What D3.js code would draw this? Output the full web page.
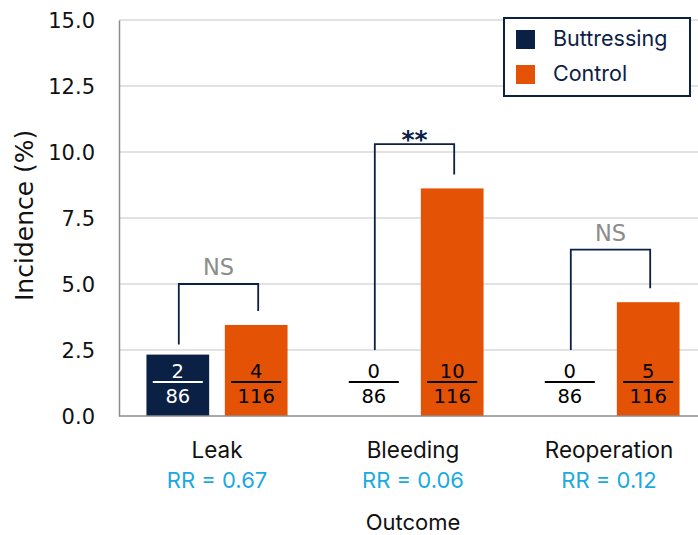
<!DOCTYPE html>
<html>
<head>
<meta charset="utf-8">
<script src="https://cdn.jsdelivr.net/npm/d3@7"></script>
<style>
  body { margin: 0; background: #fff; }
  svg { display: block; }
</style>
</head>
<body>
<div id="chart"></div>
<script>
// data
var categories = ["Leak", "Bleeding", "Reoperation"];
var series = ["Buttressing", "Control"];
var buttEvents = [2, 0, 0];
var buttTotal = [86, 86, 86];
var ctrlEvents = [4, 10, 5];
var ctrlTotal = [116, 116, 116];
var rrLabels = ["RR = 0.67", "RR = 0.06", "RR = 0.12"];
var sigLabels = ["NS", "**", "NS"];
var bracketTop = [5.0, 10.3, 6.3];
var yTicks = [0, 2.5, 5, 7.5, 10, 12.5, 15];

var width = 698, height = 535;
var margin = {top: 20, right: -9, bottom: 119, left: 119};
var navy = "#0b2045", orange = "#e35205", cyan = "#1aa9e1";
var font = "'DejaVu Sans', 'Open Sans', sans-serif";
var font2 = "Inter, 'Noto Sans', sans-serif";

var svg = d3.select("#chart").append("svg")
  .attr("width", width)
  .attr("height", height);

var x = d3.scaleBand()
  .domain(categories)
  .range([margin.left, width - margin.right])
  .paddingInner(0)
  .paddingOuter(0);

var xs = d3.scaleBand()
  .domain(series)
  .range([0, x.bandwidth()])
  .paddingInner(0.2)
  .paddingOuter(0.35);

var y = d3.scaleLinear()
  .domain([0, 15])
  .range([height - margin.bottom, margin.top]);

var rows = categories.map(function(c, i) {
  return [
    {cat: c, s: "Buttressing", ev: buttEvents[i], n: buttTotal[i], v: buttEvents[i] / buttTotal[i] * 100},
    {cat: c, s: "Control", ev: ctrlEvents[i], n: ctrlTotal[i], v: ctrlEvents[i] / ctrlTotal[i] * 100}
  ];
});

// gridlines
svg.append("g")
  .selectAll("line")
  .data(yTicks.filter(function(d) { return d > 0; }))
  .enter().append("line")
  .attr("x1", margin.left).attr("x2", width)
  .attr("y1", function(d) { return y(d); })
  .attr("y2", function(d) { return y(d); })
  .attr("stroke", "#d9d9d9")
  .attr("stroke-width", 1.3);

// y axis
var yAxis = svg.append("g")
  .attr("transform", "translate(" + margin.left + ",0)")
  .call(d3.axisLeft(y).tickValues(yTicks).tickFormat(d3.format(".1f")).tickSize(0).tickPadding(24));
yAxis.select(".domain").attr("stroke", "#8c8c8c").attr("stroke-width", 1.5);
yAxis.selectAll("text")
  .attr("font-family", font)
  .attr("font-size", 21)
  .attr("dy", "0.36em")
  .attr("fill", "#111");

svg.append("text")
  .attr("transform", "translate(33," + y(7.6) + ") rotate(-90)")
  .attr("text-anchor", "middle")
  .attr("font-family", font)
  .attr("font-size", 25)
  .attr("fill", "#111")
  .text("Incidence (%)");

// bars
var groups = svg.append("g")
  .selectAll("g")
  .data(rows)
  .enter().append("g")
  .attr("transform", function(d) { return "translate(" + x(d[0].cat) + ",0)"; });

groups.selectAll("rect")
  .data(function(d) { return d; })
  .enter().append("rect")
  .attr("x", function(d) { return xs(d.s); })
  .attr("width", xs.bandwidth())
  .attr("y", function(d) { return y(d.v); })
  .attr("height", function(d) { return y(0) - y(d.v); })
  .attr("fill", function(d) { return d.s == "Buttressing" ? navy : orange; });

// fraction labels
var frac = groups.selectAll("g.frac")
  .data(function(d) { return d; })
  .enter().append("g")
  .attr("class", "frac")
  .attr("transform", function(d) { return "translate(" + (xs(d.s) + xs.bandwidth() / 2) + "," + (y(0) - 34) + ")"; });

function fracColor(d) { return (d.s == "Buttressing" && d.v > 0) ? "#fff" : "#000"; }

frac.append("line")
  .attr("x1", -25).attr("x2", 25)
  .attr("y1", 0).attr("y2", 0)
  .attr("stroke", fracColor)
  .attr("stroke-width", 2);
frac.append("text")
  .attr("y", -4)
  .attr("text-anchor", "middle")
  .attr("font-family", font)
  .attr("font-size", 19.5)
  .attr("fill", fracColor)
  .text(function(d) { return d.ev; });
frac.append("text")
  .attr("y", 21)
  .attr("text-anchor", "middle")
  .attr("font-family", font)
  .attr("font-size", 19.5)
  .attr("fill", fracColor)
  .text(function(d) { return d.n; });

// significance brackets
groups.each(function(d, i) {
  var g = d3.select(this);
  var xl = xs("Buttressing") + xs.bandwidth() / 2 + 1;
  var xr = xs("Control") + xs.bandwidth() / 2 + 2;
  var yl = y(d[0].v) - (d[0].v > 0 ? 10 : 66);
  var yr = y(d[1].v) - 14;
  var yt = y(bracketTop[i]);
  g.append("path")
    .attr("d", "M" + xl + "," + yl + "V" + yt + "H" + xr + "V" + yr)
    .attr("fill", "none")
    .attr("stroke", navy)
    .attr("stroke-width", 1.8);
  var star = sigLabels[i] == "**";
  g.append("text")
    .attr("x", (xl + xr) / 2)
    .attr("y", star ? yt + 4 : yt - 9)
    .attr("text-anchor", "middle")
    .attr("font-family", font)
    .attr("font-size", star ? 25 : 22.5)
    .attr("font-weight", star ? "bold" : "normal")
    .attr("fill", star ? navy : "#8c8c8c")
    .text(sigLabels[i]);
});

// bottom axis line
svg.append("line")
  .attr("x1", margin.left).attr("x2", width)
  .attr("y1", y(0)).attr("y2", y(0))
  .attr("stroke", "#8c8c8c")
  .attr("stroke-width", 1.5);

// category labels
var cl = svg.append("g")
  .selectAll("g")
  .data(categories)
  .enter().append("g")
  .attr("transform", function(d) { return "translate(" + (x(d) + x.bandwidth() / 2) + ",0)"; });
cl.append("text")
  .attr("y", 458)
  .attr("text-anchor", "middle")
  .attr("font-family", font2)
  .attr("font-size", 22.5)
  .attr("fill", "#111")
  .text(function(d) { return d; });
cl.append("text")
  .attr("y", 488)
  .attr("text-anchor", "middle")
  .attr("font-family", font2)
  .attr("font-size", 22)
  .attr("fill", cyan)
  .text(function(d, i) { return rrLabels[i]; });

svg.append("text")
  .attr("x", x("Bleeding") + x.bandwidth() / 2)
  .attr("y", 530)
  .attr("text-anchor", "middle")
  .attr("font-family", font2)
  .attr("font-size", 22)
  .attr("fill", "#111")
  .text("Outcome");

// legend
var legend = svg.append("g").attr("transform", "translate(504,18)");
legend.append("rect")
  .attr("width", 186).attr("height", 78)
  .attr("fill", "#fff")
  .attr("stroke", navy)
  .attr("stroke-width", 2);
var li = legend.selectAll("g")
  .data(series)
  .enter().append("g")
  .attr("transform", function(d, i) { return "translate(12," + (12 + i * 35) + ")"; });
li.append("rect")
  .attr("width", 19).attr("height", 19)
  .attr("fill", function(d) { return d == "Buttressing" ? navy : orange; });
li.append("text")
  .attr("x", 37).attr("y", 16)
  .attr("font-family", font2)
  .attr("font-size", 21.5)
  .attr("fill", navy)
  .text(function(d) { return d; });
</script>
</body>
</html>
